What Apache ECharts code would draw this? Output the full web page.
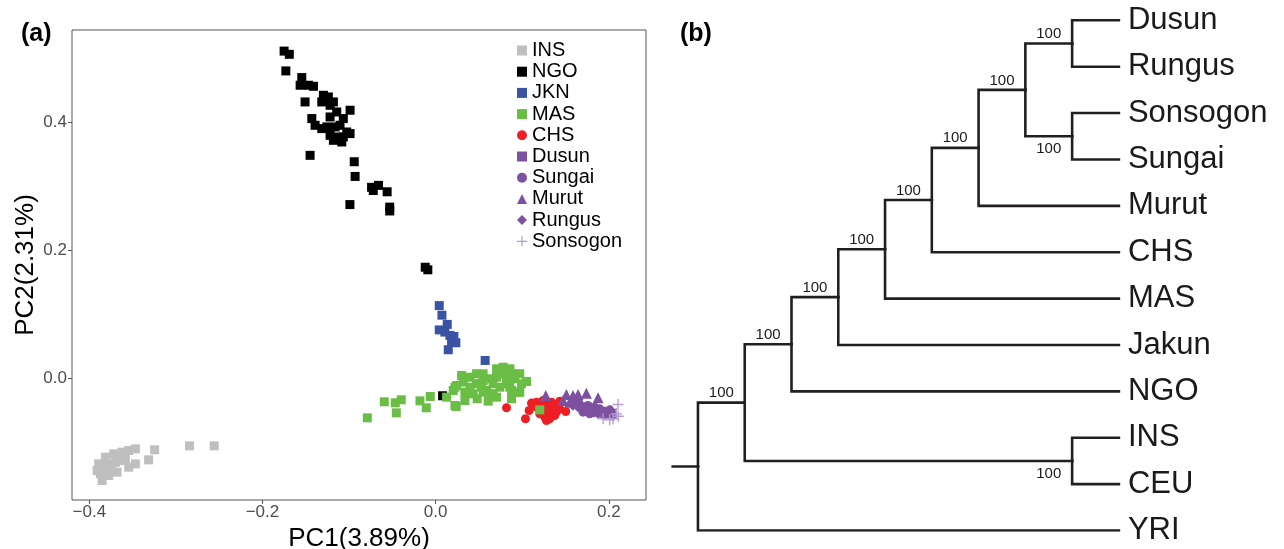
<!DOCTYPE html>
<html><head><meta charset="utf-8">
<script src="https://cdn.jsdelivr.net/npm/echarts@6/dist/echarts.min.js"></script>
<style>html,body{margin:0;padding:0;background:#fff}#c{width:1284px;height:549px}</style>
</head><body><div id="c"></div>
<script>
const FONT = '"Liberation Sans", Arial, Helvetica, sans-serif';

// ---------- Panel (a): PCA ----------
const groupNames = ['INS','NGO','JKN','MAS','CHS','Dusun','Sungai','Murut','Rungus','Sonsogon'];
const groupColors = ['#bfbfbf','#000000','#3a53a4','#6abd45','#ed1f24','#7e50a0','#7e50a0','#7e50a0','#7e50a0','#b39ad3'];
const PLUS = 'path://M0,4.4H10V5.6H0Z M4.4,0H5.6V10H4.4Z';
const groupSymbols = ['rect','rect','rect','rect','circle','rect','circle','triangle','diamond',PLUS];
const groupSizes = [9,9,9,9,9,9,9,11,7,11];

const INS = [[-0.3468,-0.111],[-0.3245,-0.1126],[-0.3315,-0.1282],[-0.3545,-0.1136],[-0.3622,-0.1162],[-0.3718,-0.1188],[-0.3814,-0.124],[-0.3892,-0.1345],[-0.391,-0.1449],[-0.3852,-0.1606],[-0.3776,-0.1527],[-0.368,-0.1475],[-0.3545,-0.1397],[-0.3468,-0.1345],[-0.3584,-0.1266],[-0.3699,-0.1319],[-0.3795,-0.1371],[-0.3661,-0.1214],[-0.3872,-0.15],[-0.3737,-0.1423],[-0.3603,-0.1293],[-0.3757,-0.1344],[-0.3834,-0.1475],[-0.2842,-0.1063],[-0.2557,-0.1063]];
const NGO = [[-0.175,0.511],[-0.169,0.506],[-0.173,0.480],[-0.1546,0.4696],[-0.1565,0.4576],[-0.1469,0.4576],[-0.1411,0.456],[-0.1508,0.4315],[-0.1296,0.4419],[-0.1239,0.4393],[-0.1315,0.4315],[-0.1181,0.4315],[-0.1219,0.4263],[-0.1142,0.4158],[-0.0988,0.4185],[-0.143,0.4055],[-0.1219,0.408],[-0.1066,0.4055],[-0.1392,0.395],[-0.1315,0.3898],[-0.1257,0.3924],[-0.1161,0.3924],[-0.1104,0.395],[-0.1027,0.3845],[-0.0988,0.382],[-0.1219,0.3793],[-0.1142,0.3767],[-0.1181,0.3715],[-0.1084,0.3689],[-0.1066,0.3767],[-0.145,0.348],[-0.094,0.338],[-0.093,0.315],[-0.074,0.298],[-0.066,0.301],[-0.072,0.293],[-0.056,0.291],[-0.099,0.271],[-0.053,0.267],[-0.053,0.261],[-0.012,0.173],[-0.009,0.169],[0.008,-0.028]];
const JKN = [[0.0042,0.113],[0.0073,0.098],[0.0134,0.0836],[0.0042,0.075],[0.0107,0.0716],[0.0165,0.0664],[0.0211,0.0648],[0.0184,0.0559],[0.0234,0.0549],[0.0146,0.044],[0.0572,0.0272]];
const MAS = [[-0.0789,-0.0625],[-0.0593,-0.0374],[-0.0466,-0.039],[-0.0397,-0.0343],[-0.0454,-0.0547],[-0.0181,-0.0359],[-0.0108,-0.0468],[-0.0062,-0.0291],[0.0238,-0.0448],[0.0127,-0.0302],[0.0203,-0.0197],[0.0242,-0.0119],[0.030,0.0038],[0.0338,-0.0354],[0.0338,-0.0224],[0.0396,0.0011],[0.0473,0.0064],[0.048,-0.0327],[0.0473,-0.0092],[0.0549,-0.0041],[0.0588,-0.0197],[0.0607,-0.0364],[0.0626,-0.0014],[0.0704,0.0142],[0.078,0.0167],[0.0857,0.0116],[0.0877,-0.0327],[0.0915,-0.0014],[0.0953,-0.0224],[0.0992,-0.0092],[0.105,-0.0056],[0.0704,-0.0302],[0.0664,-0.0092],[0.0742,-0.0146],[0.0819,-0.0092],[0.0531,-0.0146],[0.0396,-0.0146],[0.0434,-0.0249],[0.078,0.0064],[0.0895,0.0064],[0.0549,0.0064],[0.0704,0.0011],[0.0819,0.0011],[0.0742,0.0116],[0.0857,-0.0146],[0.0626,-0.0249],[0.0319,-0.0067],[0.0972,0.0064],[0.0972,-0.0224],[0.0223,-0.0432],[0.0223,-0.0146],[0.0511,-0.0092],[0.0877,-0.0197],[0.0664,-0.0249],[0.0549,-0.0224],[0.0857,0.0142],[0.1203,-0.05]];
const CHS = [[0.0819,-0.0468],[0.1038,-0.064],[0.108,-0.051],[0.1107,-0.0395],[0.1503,-0.0526],[0.1434,-0.0364],[0.1165,-0.038],[0.1222,-0.0432],[0.128,-0.0406],[0.1338,-0.038],[0.1396,-0.0416],[0.1241,-0.051],[0.1299,-0.0562],[0.1357,-0.051],[0.1414,-0.0458],[0.1261,-0.0615],[0.1318,-0.064],[0.1376,-0.0588],[0.1203,-0.0562],[0.1165,-0.0458],[0.1434,-0.0484],[0.128,-0.0667],[0.1338,-0.0458],[0.1241,-0.0354],[0.1299,-0.0484],[0.1357,-0.0562],[0.1222,-0.0536],[0.1396,-0.0536],[0.1318,-0.0432],[0.1261,-0.0458]];
const Dusun = [[0.1626,-0.0406],[0.1741,-0.0458],[0.1799,-0.0484],[0.1857,-0.051],[0.1915,-0.0521],[0.1972,-0.0536],[0.203,-0.0552],[0.1953,-0.0562]];
const Sungai = [[0.176,-0.0432],[0.1837,-0.0458],[0.1895,-0.0484],[0.2011,-0.05],[0.1703,-0.0536],[0.178,-0.0562]];
const Murut = [[0.1272,-0.0275],[0.151,-0.026],[0.1587,-0.0275],[0.1645,-0.026],[0.1741,-0.0239],[0.1876,-0.0312],[0.1472,-0.0354],[0.1549,-0.038],[0.1684,-0.0406]];
const Rungus = [[0.1876,-0.0588],[0.1953,-0.0604],[0.2049,-0.0615],[0.1587,-0.0458],[0.1645,-0.0484],[0.183,-0.057],[0.199,-0.058]];
const Sonsogon = [[0.2106,-0.0416],[0.2088,-0.0562],[0.2049,-0.064],[0.201,-0.0656],[0.1934,-0.064],[0.211,-0.060]];
const groupData = [INS,NGO,JKN,MAS,CHS,Dusun,Sungai,Murut,Rungus,Sonsogon];

const xTicks = [-0.4,-0.2,0,0.2];
const yTicks = [0,0.2,0.4];
const xName = 'PC1(3.89%)';
const yName = 'PC2(2.31%)';

// ---------- Panel (b): tree ----------
const treeLeaves = ['Dusun','Rungus','Sonsogon','Sungai','Murut','CHS','MAS','Jakun','NGO','INS','CEU','YRI'];
const leafParents = ['DR','DR','SS','SS','G','F','E','D','C','IC','IC','A'];
const leafDepth = 9;
const nodeIds = ['A','B','C','D','E','F','G','H','DR','SS','IC'];
const nodeParents = [null,'A','B','C','D','E','F','G','H','H','B'];
const nodeDepths = [0,1,2,3,4,5,6,7,8,8,8];
const nodeSupport = [null,100,100,100,100,100,100,100,100,100,100];
const rootStubStart = -0.54;

// tree layout (x = depth, y = leaf order; internal y = midpoint of children)
const pos = {};
treeLeaves.forEach((n,i)=>{ pos['leaf:'+n] = {x: leafDepth, y: i, parent: leafParents[i]}; });
function nodeY(id){
  if (pos[id] && pos[id].y !== undefined) return pos[id].y;
  const ys = [];
  treeLeaves.forEach((n,i)=>{ if (leafParents[i]===id) ys.push(i); });
  nodeIds.forEach((c,j)=>{ if (nodeParents[j]===id) ys.push(nodeY(c)); });
  const y = (Math.min(...ys)+Math.max(...ys))/2;
  const k = nodeIds.indexOf(id);
  pos[id] = {x: nodeDepths[k], y: y, parent: nodeParents[k]};
  return y;
}
nodeIds.forEach(nodeY);

const edges = [];
Object.keys(pos).forEach(k=>{
  const p = pos[k];
  if (!p.parent) return;
  const par = pos[p.parent];
  edges.push({coords: [[par.x, par.y],[par.x, p.y],[p.x, p.y]]});
});
const rootId = nodeIds[nodeParents.indexOf(null)];
edges.push({coords: [[rootStubStart, pos[rootId].y],[pos[rootId].x, pos[rootId].y]]});

const supportAbove = [], supportBelow = [];
nodeIds.forEach((id,j)=>{
  if (nodeSupport[j]==null) return;
  const p = pos[id], par = pos[p.parent];
  const item = {value: [p.x-0.5, p.y], name: String(nodeSupport[j])};
  if (p.y < par.y) supportAbove.push(item); else supportBelow.push(item);
});
const leafLabelData = treeLeaves.map((n,i)=>({value:[leafDepth,i], name:n}));

const fmt = v => (v<0?'\u2212':'') + Math.abs(v).toFixed(1);

const pcaSeries = groupNames.map((n,i)=>({
  type:'scatter', name:n, xAxisIndex:0, yAxisIndex:0,
  data: groupData[i], symbol: groupSymbols[i], symbolSize: groupSizes[i],
  itemStyle:{color: groupColors[i], opacity:1}, z: n==='MAS'?3:2,
  emphasis:{disabled:true}
}));

const TXT = '#1a1a1a';
const supLabel = p => ({show:true, position:p, distance: p==='top'?2:5, formatter:'{b}', color:TXT, opacity:1, fontSize:15, fontFamily:FONT});

const option = {
  animation:false,
  backgroundColor:'#fff',
  textStyle:{fontFamily:FONT},
  title:[
    {text:'{n|(}{b|a}{n|)}', left:16, top:17, textStyle:{rich:{n:{fontSize:25,fontFamily:FONT,color:'#000'},b:{fontSize:25,fontWeight:'bold',fontFamily:FONT,color:'#000'}}}},
    {text:'{n|(}{b|b}{n|)}', left:675, top:17, textStyle:{rich:{n:{fontSize:25,fontFamily:FONT,color:'#000'},b:{fontSize:25,fontWeight:'bold',fontFamily:FONT,color:'#000'}}}}
  ],
  legend:{
    data: groupNames, orient:'vertical', left:512, top:35,
    itemWidth:10, itemHeight:10, itemGap:0.2,
    textStyle:{fontSize:20, lineHeight:21, color:'#000', fontFamily:FONT},
    selectedMode:false
  },
  grid:[
    {left:72, top:30, width:574, height:470, show:true, borderColor:'#555', borderWidth:1, backgroundColor:'transparent', outerBoundsMode:'none', containLabel:false},
    {left:669.9, top:20.3, width:449, height:510.2, outerBoundsMode:'none', containLabel:false}
  ],
  xAxis:[
    {type:'value', gridIndex:0, min:-0.42, max:0.243,
     name:xName, nameLocation:'middle', nameGap:22, nameTextStyle:{fontSize:26, color:'#000', fontFamily:FONT},
     axisLine:{show:false, onZero:false}, splitLine:{show:false},
     axisTick:{show:true, length:4, lineStyle:{color:'#555'}, customValues:xTicks},
     axisLabel:{fontSize:17, color:'#4d4d4d', margin:4, customValues:xTicks, formatter:fmt, fontFamily:FONT}},
    {type:'value', gridIndex:1, min:-0.6, max:9, show:false}
  ],
  yAxis:[
    {type:'value', gridIndex:0, min:-0.191, max:0.544,
     name:yName, nameLocation:'middle', nameGap:33, nameTextStyle:{fontSize:26, color:'#000', fontFamily:FONT},
     axisLine:{show:false, onZero:false}, splitLine:{show:false},
     axisTick:{show:true, length:4, lineStyle:{color:'#555'}, customValues:yTicks},
     axisLabel:{fontSize:17, color:'#4d4d4d', margin:5, customValues:yTicks, formatter:fmt, fontFamily:FONT}},
    {type:'value', gridIndex:1, min:0, max:11, inverse:true, show:false}
  ],
  series: pcaSeries.concat([
    {type:'lines', name:'tree', coordinateSystem:'cartesian2d', xAxisIndex:1, yAxisIndex:1, polyline:true,
     data: edges, lineStyle:{color:'#231f20', width:2.6, cap:'square', join:'miter', opacity:1}, silent:true, z:5},
    {type:'scatter', name:'leaves', xAxisIndex:1, yAxisIndex:1, data:leafLabelData, symbolSize:0, clip:false,
     itemStyle:{color:TXT},
     label:{show:true, position:'right', distance:9, formatter:'{b}', color:TXT, opacity:1, fontSize:31, fontFamily:FONT}, silent:true},
    {type:'scatter', name:'supA', xAxisIndex:1, yAxisIndex:1, data:supportAbove, symbolSize:0, clip:false,
     itemStyle:{color:TXT}, label:supLabel('top'), silent:true},
    {type:'scatter', name:'supB', xAxisIndex:1, yAxisIndex:1, data:supportBelow, symbolSize:0, clip:false,
     itemStyle:{color:TXT}, label:supLabel('bottom'), silent:true}
  ])
};
const chart = echarts.init(document.getElementById('c'), null, {renderer:'canvas'});
chart.setOption(option);
</script>
</body></html>
